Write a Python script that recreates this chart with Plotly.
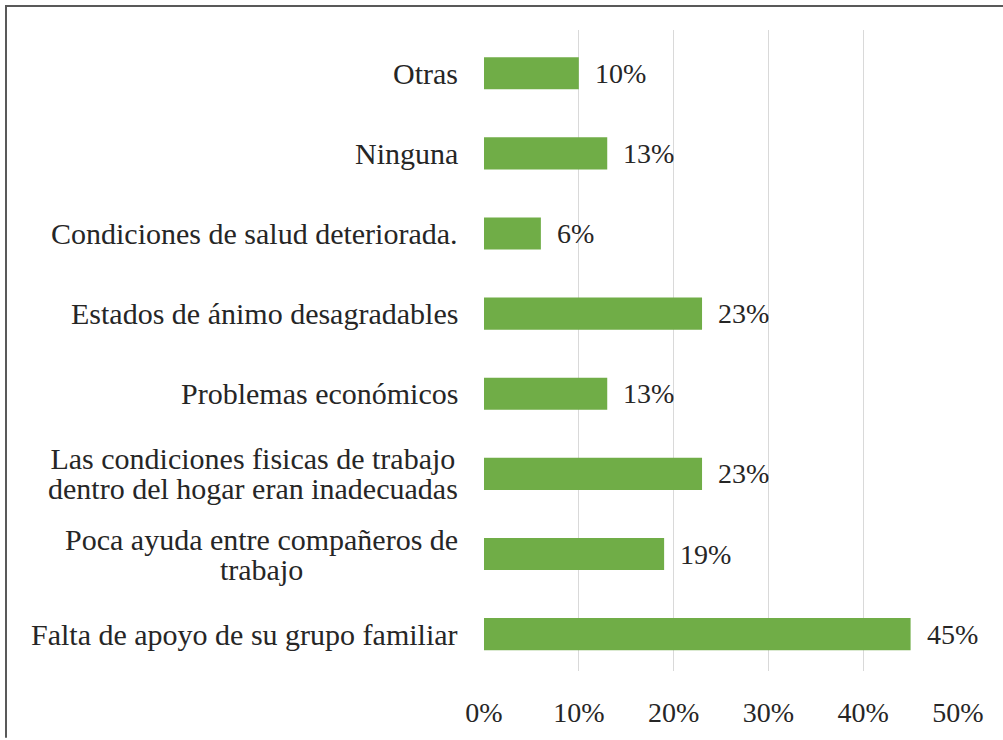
import plotly.graph_objects as go

categories = [
    "Falta de apoyo de su grupo familiar",
    "Poca ayuda entre compañeros de<br>trabajo",
    "Las condiciones fisicas de trabajo<br>dentro del hogar eran inadecuadas",
    "Problemas económicos",
    "Estados de ánimo desagradables",
    "Condiciones de salud deteriorada.",
    "Ninguna",
    "Otras",
]
values = [0.45, 0.19, 0.23, 0.13, 0.23, 0.06, 0.13, 0.10]
labels = ["45%", "19%", "23%", "13%", "23%", "6%", "13%", "10%"]
tick_vals = [0, 0.1, 0.2, 0.3, 0.4, 0.5]
tick_text = ["0%", "10%", "20%", "30%", "40%", "50%"]

FONT = "Liberation Serif"
GREEN = "#70AD47"
TXT = "#262626"
CAT_SIZE = 30
NUM_SIZE = 28
BASE_SIZE = 23  # sets line spacing (1.3 x 23 ~ 30 px)

fig = go.Figure()
fig.add_trace(go.Bar(
    y=list(range(len(categories))),
    x=values,
    orientation="h",
    width=0.4,
    marker=dict(color=GREEN, line=dict(width=0)),
    hoverinfo="skip",
))

annotations = []
for i, c in enumerate(categories):
    txt = "<br>".join(f"<span style='font-size:{CAT_SIZE}px'>{ln}</span>" for ln in c.split("<br>"))
    annotations.append(dict(
        x=0, y=i, xref="x", yref="y", text=txt, showarrow=False,
        xanchor="right", yanchor="middle", align="center", xshift=-24,
        font=dict(family=FONT, size=BASE_SIZE, color=TXT),
    ))
for i, (v, t) in enumerate(zip(values, labels)):
    annotations.append(dict(
        x=v, y=i, xref="x", yref="y", text=t, showarrow=False,
        xanchor="left", yanchor="middle", xshift=14,
        font=dict(family=FONT, size=NUM_SIZE, color=TXT),
    ))

L, R, T, B = 484, 45, 30, 67
pw, ph = 1003 - L - R, 740 - T - B
shapes = [
    dict(type="line", xref="paper", yref="paper",
         x0=(5 - L) / pw, x1=(1003 - L) / pw, y0=1 + (T - 6) / ph, y1=1 + (T - 6) / ph,
         line=dict(color="#595959", width=2)),
    dict(type="line", xref="paper", yref="paper",
         x0=(6 - L) / pw, x1=(6 - L) / pw, y0=1 + (T - 6) / ph, y1=-B / ph,
         line=dict(color="#595959", width=2)),
]

fig.update_layout(
    width=1003, height=740,
    margin=dict(l=L, r=R, t=T, b=B, pad=0),
    paper_bgcolor="white", plot_bgcolor="white",
    showlegend=False,
    annotations=annotations,
    shapes=shapes,
    xaxis=dict(range=[0, 0.5], tickvals=tick_vals, ticktext=tick_text,
               showgrid=True, gridcolor="#D9D9D9", gridwidth=1,
               zeroline=False, showline=False, ticks="",
               ticklabelstandoff=22,
               tickfont=dict(family=FONT, size=NUM_SIZE, color=TXT)),
    yaxis=dict(range=[-0.46, len(categories) - 0.46], showticklabels=False,
               showgrid=False, zeroline=False, showline=False, ticks=""),
)

fig.write_html("out.html", config={"displayModeBar": False},
               post_script="document.body.style.margin='0';")
